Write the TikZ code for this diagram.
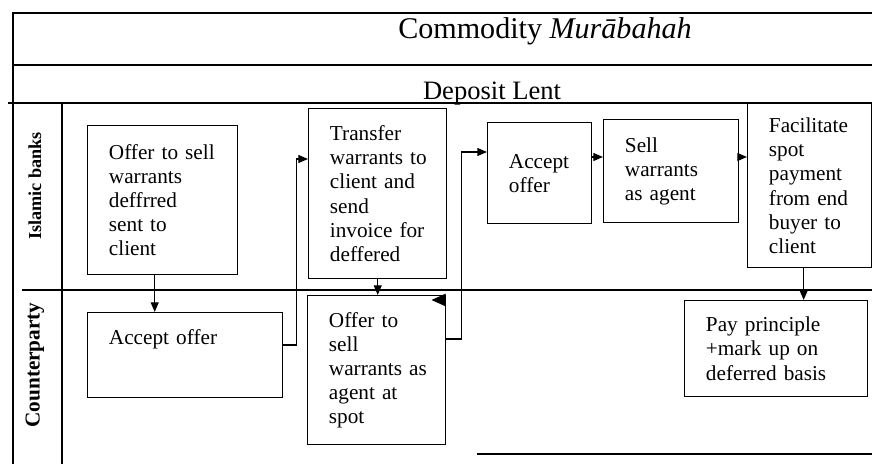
\documentclass[tikz,border=0pt]{standalone}
\usepackage{fontspec}
\setmainfont{Liberation Serif}
\usepackage{tikz}
\usetikzlibrary{arrows.meta, calc}

\begin{document}
\begin{tikzpicture}[
  x=0.565pt, y=-0.565pt, >={Triangle[length=5.5pt, width=4.5pt]},
  frameline/.style={line width=1pt, black},
  stepbox/.style={
    draw, line width=0.8pt, anchor=north west, align=left,
    inner xsep=12pt, inner ysep=2pt,
    font=\fontsize{12}{13.6}\selectfont
  },
  lanelabel/.style={rotate=90, font=\bfseries},
  myarrow/.style={->, line width=0.8pt},
]
\useasboundingbox (0,0) rectangle (872,464);
% --- Frame and swim lanes ---
\draw[frameline] (13,464) -- (13,13) -- (872,13);
\draw[frameline] (13,65) -- (872,65);
\draw[frameline] (8,103) -- (872,103);
\draw[frameline] (62,103) -- (62,464);
\draw[frameline] (22,290) -- (872,290);
\draw[frameline] (477,454) -- (872,454);
\node[anchor=base, font=\fontsize{17}{20}\selectfont] (title) at (545,39)
  {Commodity \textit{Murābahah}};
\node[anchor=base, font=\fontsize{15}{18}\selectfont] (deposit) at (492,100)
  {Deposit Lent};
\node[lanelabel, font=\fontsize{10.3}{12}\bfseries] (lanebank) at (35,186) {Islamic banks};
\node[lanelabel, font=\fontsize{12}{14}\bfseries] (lanecp) at (35,365) {Counterparty};
% --- Islamic banks lane ---
\node[stepbox, text width=60.75pt, minimum width=84.75pt, minimum height=84.2pt] (b1) at (87,125)
  {Offer~to~sell\\warrants\\deffrred\\sent~to\\client};
\node[stepbox, text width=54pt, minimum width=78pt, minimum height=96pt] (b2) at (308,108)
  {Transfer\\warrants~to\\client~and\\send\\invoice~for\\deffered};
\node[stepbox, text width=34.8pt, minimum width=58.8pt, minimum height=57.1pt] (b3) at (487,122)
  {Accept\\offer};
\node[stepbox, text width=52.3pt, minimum width=76.3pt, minimum height=58.2pt] (b4) at (603,119)
  {Sell\\warrants\\as~agent};
\node[stepbox, text width=46pt, minimum width=70pt, minimum height=92.7pt] (b5) at (747,103)
  {Facilitate\\spot\\payment\\from~end\\buyer~to\\client};
% --- Counterparty lane ---
\node[stepbox, text width=86.2pt, minimum width=110.2pt, minimum height=48pt,
  inner ysep=9.5pt, text depth=20pt] (c1) at (87,312)
  {Accept~offer};
\node[stepbox, text width=54pt, minimum width=78pt, minimum height=84.2pt] (c2) at (307,295)
  {Offer~to\\sell\\warrants~as\\agent~at\\spot};
\node[stepbox, text width=79.4pt, minimum width=103.4pt, minimum height=54.2pt] (c3) at (684,300)
  {Pay~principle\\+mark~up~on\\deferred~basis};
% --- Connectors ---
\coordinate (s1) at ($(b1.south)+(-8,0)$);
\draw[myarrow] (s1) -- (s1 |- c1.north);
\draw[myarrow] ($(c1.north east)+(0,33)$) -- ++(13,0) |- ($(b2.north west)+(0,51)$);
\draw[myarrow] (b2.south) -- (b2.south |- c2.north);
\draw[myarrow] ($(c2.north east)+(0,44)$) -- ++(15,0) |- ($(b3.north west)+(0,30)$);
\coordinate (s3) at ($(b3.north east)+(0,35)$);
\draw[myarrow] (s3) -- (s3 -| b4.west);
\coordinate (s4) at ($(b4.north east)+(0,38)$);
\draw[myarrow] (s4) -- (s4 -| b5.west);
\coordinate (s5) at ($(b5.south)+(-6,0)$);
\draw[myarrow] (s5) -- (s5 |- c3.north);
\coordinate (s6) at ($(c2.north east)+(-1,5)$);
\draw[->, line width=0.8pt, >={Triangle[length=8pt, width=7pt]}] (s6) -- ++(-14,0);
\end{tikzpicture}
\end{document}
